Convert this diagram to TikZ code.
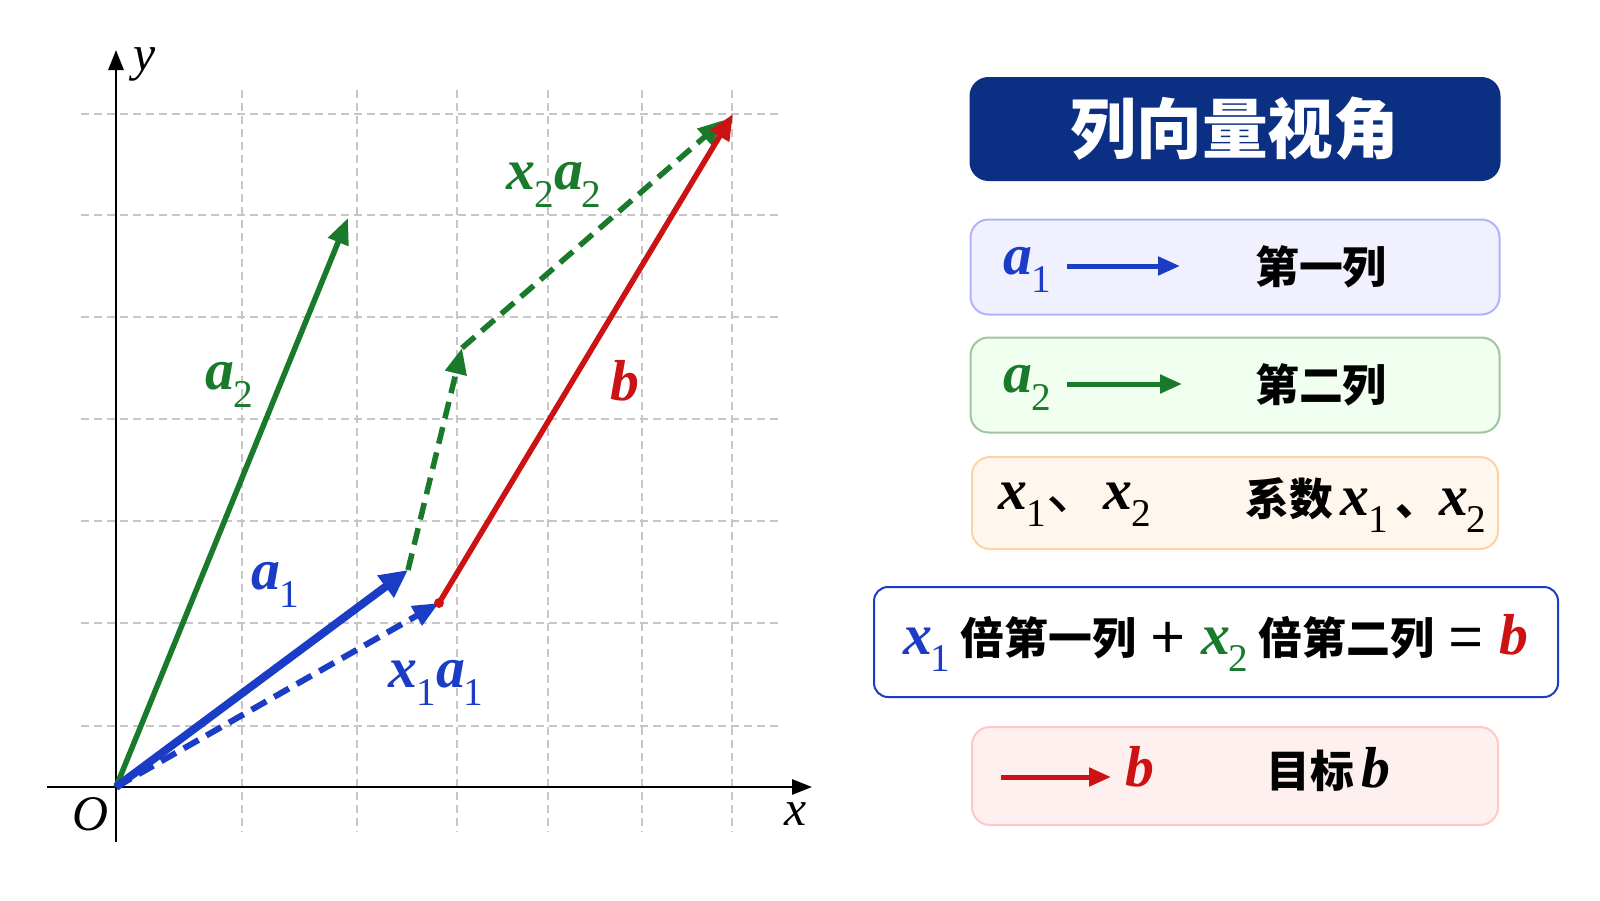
\documentclass[tikz,border=0pt]{standalone}
\usepackage{fontspec}
\setmainfont{Liberation Serif}
\newfontfamily\cjk{Noto Sans CJK SC}
\usetikzlibrary{arrows.meta,positioning}
\definecolor{vblue}{HTML}{1B3CC4}
\definecolor{vgreen}{HTML}{1A7A2C}
\definecolor{vred}{HTML}{CC1212}
\definecolor{navy}{HTML}{0B2F82}
\newcommand\vv[2]{{\rmfamily\bfseries\itshape #1\kern-0.02em\raisebox{-0.3em}{\mdseries\upshape\scalebox{0.68}{#2}}}}
\newcommand\op[1]{\hspace{16bp}\raisebox{-5bp}{\mdseries\fontsize{60}{62}\selectfont #1}\hspace{16bp}}
\tikzset{
	gridln/.style={gray!45,line width=1.8bp,dash pattern=on 8bp off 5bp},
	axis/.style={line width=2.8bp,-{Triangle[length=20bp,width=15bp]}},
	vec/.style={line width=5.5bp,-{Triangle[length=26bp,width=21bp]}},
	dvec/.style={vec,dash pattern=on 17bp off 9bp},
	kar/.style={line width=5bp,-{Triangle[length=22bp,width=18bp]}},
	lbl/.style={font=\fontsize{58}{60}\selectfont,inner sep=0pt},
	axlbl/.style={font=\fontsize{50}{52}\selectfont\itshape,inner sep=0pt},
	cn/.style={font=\cjk\bfseries\fontsize{44}{48}\selectfont,inner sep=0pt},
	box/.style={rounded corners=18bp,line width=2bp,minimum width=529bp,minimum height=95bp}
}
\begin{document}
\begin{tikzpicture}[x=1bp,y=-1bp]
	\useasboundingbox[fill=white] (0,0) rectangle (1600,900);
%	grid
	\foreach \gx in {242,357,457,548,642,732} \draw[gridln] (\gx,90) -- (\gx,832);
	\foreach \gy in {114,215,317,419,521,623,726} \draw[gridln] (81,\gy) -- (781,\gy);
%	axes
	\coordinate (O) at (116,787);
	\coordinate (xl) at (47,787);
	\coordinate (xr) at (812,787);
	\coordinate (yb) at (116,842);
	\coordinate (yt) at (116,50);
	\draw[axis] (xl) -- (xr);
	\draw[axis] (yb) -- (yt);
	\node[axlbl] (xlab) at (796,814) {x};
	\node[axlbl] (ylab) at (145,64) {y};
	\node[axlbl] (olab) at (90,814) {O};
%	vectors
	\coordinate (A1) at (408,570);
	\coordinate (A2) at (348,218);
	\coordinate (X1) at (439,603);
	\coordinate (M) at (462,348);
	\coordinate (B) at (733,114);
	\coordinate (B2) at (724,120);
	\draw[vec,vgreen] (O) -- (A2);
	\draw[dvec,vblue,line width=6bp] (O) -- (X1);
	\draw[vec,vblue,line width=8bp,-{Triangle[length=28bp,width=26bp]}] (O) -- (A1);
	\draw[dvec,vgreen] (A1) -- (M);
	\draw[dvec,vgreen] (M) -- (B2);
	\draw[vec,vred] (X1) -- (B);
	\fill[vred] (X1) circle (5bp);
	\node[lbl,vgreen] (la2) at (229,385) {\vv{a}{2}};
	\node[lbl,vblue] (la1) at (275,585) {\vv{a}{1}};
	\node[lbl,vblue] (lx1) at (436,683) {\vv{x}{1}\vv{a}{1}};
	\node[lbl,vgreen] (lx2) at (554,185) {\vv{x}{2}\vv{a}{2}};
	\node[lbl,vred] (lb) at (624,389) {\vv{b}{}};
%	legend
	\node[box,fill=navy,draw=navy,minimum height=102bp,text=white,font=\cjk\bfseries\fontsize{66}{68}\selectfont] (title) at (1235,129) {列向量视角};
	\node[box,fill=blue!6,draw=blue!30] (col1) at (1235,267) {};
	\node[lbl,vblue] (ka1) at (1027,270) {\vv{a}{1}};
	\coordinate (k1s) at (1067,266);
	\coordinate (k1e) at (1180,266);
	\draw[kar,vblue] (k1s) -- (k1e);
	\node[cn] (t1) at (1321,267) {第一列};
	\node[box,fill=green!6,draw=green!25!gray!60] (col2) at (1235,385) {};
	\node[lbl,vgreen] (ka2) at (1027,388) {\vv{a}{2}};
	\coordinate (k2s) at (1067,384);
	\coordinate (k2e) at (1182,384);
	\draw[kar,vgreen] (k2s) -- (k2e);
	\node[cn] (t2) at (1321,385) {第二列};
	\node[box,fill=orange!7,draw=orange!35,minimum width=526bp,minimum height=92bp] (coef) at (1235,503) {};
	\node[lbl] (kx) at (1075,505) {\vv{x}{1}{\cjk 、}\vv{x}{2}};
	\node[cn] (t3) at (1366,505) {系数\,{\fontsize{58}{60}\selectfont\vv{x}{1}}\,、{\fontsize{58}{60}\selectfont\vv{x}{2}}};
	\node[box,draw=vblue,fill=white,minimum width=684bp,minimum height=110bp,rounded corners=14bp] (sum) at (1216,642) {};
	\node[cn] (tsum) at (1215,643) {{\fontsize{58}{60}\selectfont\color{vblue}\vv{x}{1}} 倍第一列\op{+}{\fontsize{58}{60}\selectfont\color{vgreen}\vv{x}{2}} 倍第二列\op{=}{\fontsize{58}{60}\selectfont\color{vred}\vv{b}{}}};
	\node[box,fill=red!6,draw=red!22,minimum width=526bp,minimum height=98bp] (goal) at (1235,776) {};
	\coordinate (k3s) at (1001,777);
	\coordinate (k3e) at (1111,777);
	\draw[kar,vred] (k3s) -- (k3e);
	\node[lbl,vred] (kb) at (1139,775) {\vv{b}{}};
	\node[cn] (t5) at (1328,776) {目标\,{\fontsize{58}{60}\selectfont\vv{b}{}}};
\end{tikzpicture}
\end{document}
